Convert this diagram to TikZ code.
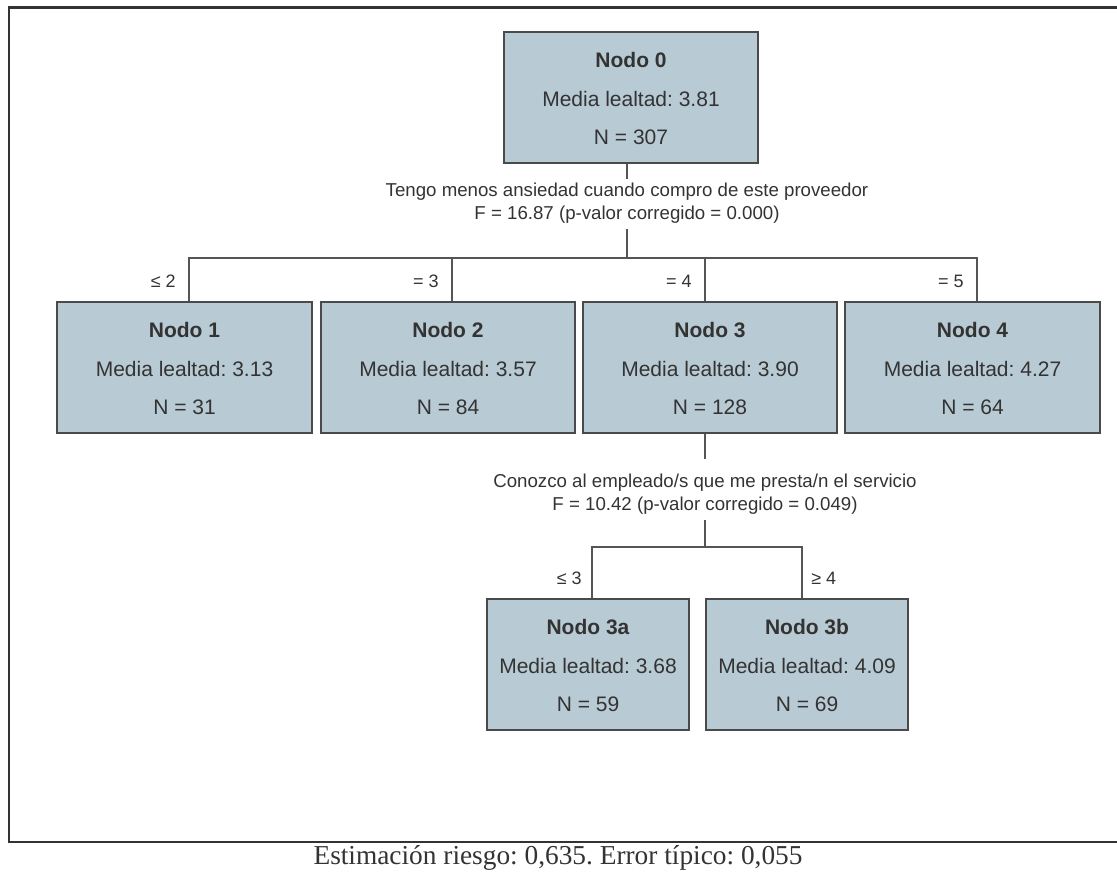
\documentclass[tikz,border=0pt]{standalone}
\usepackage{fontspec}
\setmainfont{Liberation Sans}
\newfontfamily\capfont{Liberation Serif}
\usetikzlibrary{calc}
\frenchspacing
\definecolor{boxfill}{HTML}{B8CAD4}
\definecolor{boxline}{HTML}{4A4A4A}
\definecolor{txt}{HTML}{333333}
\definecolor{conn}{HTML}{555555}
\definecolor{framec}{HTML}{333333}
\tikzset{
  treebox/.style={draw=boxline, fill=boxfill, line width=1.1pt, inner sep=0pt, minimum height={131*0.75pt}},
  title/.style={text=txt, inner sep=0pt, font=\fontsize{15.75}{19}\selectfont\bfseries},
  body/.style={text=txt, inner sep=0pt, font=\fontsize{15.75}{19}\selectfont},
  splittext/.style={text=txt, inner sep=0pt, align=center, font=\fontsize{14}{17.5}\selectfont},
  edgelabel/.style={text=txt, inner sep=0pt, font=\fontsize{13.5}{17}\selectfont},
  connector/.style={draw=conn, line width=0.8pt},
}
\newcommand{\treenode}[7]{%
  \node[treebox, minimum width={#4*0.75pt}] (#1) at (#2,#3) {};
  \node[title] (#1-t) at ($(#1.center)+(0,-37.5)$) {#5};
  \node[body] (#1-m) at ($(#1.center)+(0,1)$) {#6};
  \node[body] (#1-n) at ($(#1.center)+(0,39.5)$) {#7};
}
\begin{document}
\begin{tikzpicture}[x=0.75pt,y=-0.75pt]
\useasboundingbox (0,0) rectangle (1117,873);
% outer frame (right side lies outside the picture)
\draw[draw=framec, line width=1.9pt] (1125,7.5) -- (9,7.5) -- (9,842) -- (1125,842);

% nodes
\treenode{n0}{631}{97.5}{254}{Nodo 0}{Media lealtad: 3.81}{N = 307}
\treenode{n1}{184.5}{367.5}{255}{Nodo 1}{Media lealtad: 3.13}{N = 31}
\treenode{n2}{448}{367.5}{254}{Nodo 2}{Media lealtad: 3.57}{N = 84}
\treenode{n3}{710}{367.5}{254}{Nodo 3}{Media lealtad: 3.90}{N = 128}
\treenode{n4}{972.5}{367.5}{255}{Nodo 4}{Media lealtad: 4.27}{N = 64}
\treenode{n3a}{588}{664.5}{202}{Nodo 3a}{Media lealtad: 3.68}{N = 59}
\treenode{n3b}{807}{664.5}{202}{Nodo 3b}{Media lealtad: 4.09}{N = 69}

% split texts
\node[splittext] (sp0) at (627,203) {Tengo menos ansiedad cuando compro de este proveedor\\F = 16.87 (p-valor corregido = 0.000)};
\node[splittext] (sp3) at (705,494) {Conozco al empleado/s que me presta/n el servicio\\F = 10.42 (p-valor corregido = 0.049)};

% connector points
\coordinate (s0a) at (627,179);
\coordinate (s0b) at (627,229);
\coordinate (h0) at (627,258);
\coordinate (s3a) at (705,459);
\coordinate (s3b) at (705,520);
\coordinate (h3) at (705,547);

% connectors level 1
\draw[connector] ($(n0.south)+(-4,0)$) -- (s0a);
\draw[connector] (s0b) -- (h0);
\draw[connector] ($(n1.north)+(4.5,0)$) |- (h0);
\draw[connector] ($(n2.north)+(4,0)$) |- (h0);
\draw[connector] ($(n3.north)+(-5,0)$) |- (h0);
\draw[connector] ($(n4.north)+(4.5,0)$) |- (h0);

% connectors level 2
\draw[connector] ($(n3.south)+(-5,0)$) -- (s3a);
\draw[connector] (s3b) -- (h3);
\draw[connector] ($(n3a.north)+(4,0)$) |- (h3);
\draw[connector] ($(n3b.north)+(-5,0)$) |- (h3);

% edge labels
\node[edgelabel, anchor=east] (l1) at (176,281) {≤ 2};
\node[edgelabel, anchor=east] (l2) at (439,281) {= 3};
\node[edgelabel, anchor=east] (l3) at (692,281) {= 4};
\node[edgelabel, anchor=east] (l4) at (964,281) {= 5};
\node[edgelabel, anchor=east] (l3a) at (582,578) {≤ 3};
\node[edgelabel, anchor=west] (l3b) at (811,578) {≥ 4};

% caption
\node[text=txt, inner sep=0pt, font=\capfont\fontsize{20.5}{24}\selectfont] (cap) at (558,858) {Estimación riesgo: 0,635. Error típico: 0,055};
\end{tikzpicture}
\end{document}
